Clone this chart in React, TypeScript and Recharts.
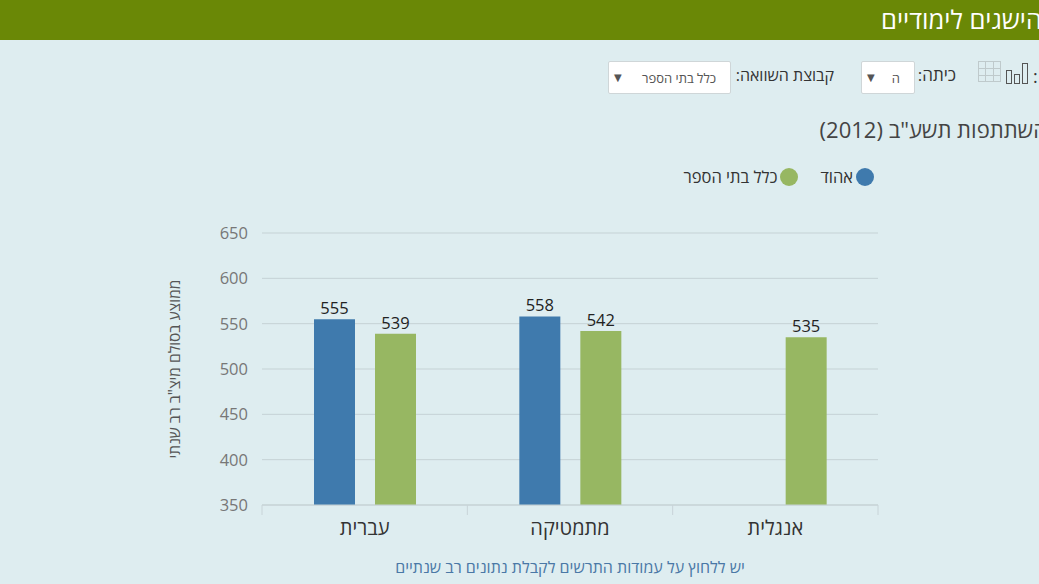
import React from "react";
import {
  BarChart,
  Bar,
  XAxis,
  YAxis,
  CartesianGrid,
  LabelList,
  Label,
} from "recharts";

const subjects = ["עברית", "מתמטיקה", "אנגלית"];
const schoolScores: (number | null)[] = [555, 558, null];
const allSchoolsScores = [539, 542, 535];
const yTicks = [350, 400, 450, 500, 550, 600, 650];

const seriesNames = { school: "אהוד", all: "כלל בתי הספר" };
const BLUE = "#3f7aad";
const GREEN = "#97b762";
const FONT = "'Open Sans', 'Noto Sans', 'DejaVu Sans', sans-serif";

const data = subjects.map((name, i) => ({
  name,
  school: schoolScores[i],
  all: allSchoolsScores[i],
}));

function CategoryTick(props: any) {
  const { x, y, payload } = props;
  const half = payload.offset ?? 0;
  const isLast = payload.index === subjects.length - 1;
  return (
    <g>
      <line x1={x - half} y1={y - 8} x2={x - half} y2={y + 2} stroke="#c8d4d8" />
      {isLast && (
        <line x1={x + half} y1={y - 8} x2={x + half} y2={y + 2} stroke="#c8d4d8" />
      )}
      <text
        x={x}
        y={y + 17}
        textAnchor="middle"
        dominantBaseline="middle"
        fill="#333"
        fontSize={20}
        fontFamily={FONT}
        direction="rtl"
      >
        {payload.value}
      </text>
    </g>
  );
}

function YTitle(props: any) {
  const { viewBox } = props;
  const cx = viewBox.x + 16;
  const cy = viewBox.y + viewBox.height / 2;
  return (
    <text
      x={cx}
      y={cy}
      transform={`rotate(-90 ${cx} ${cy})`}
      textAnchor="middle"
      dominantBaseline="middle"
      fill="#555"
      fontSize={15.5}
      fontFamily={FONT}
      direction="rtl"
    >
      ממוצע בסולם מיצ"ב רב שנתי
    </text>
  );
}

function Select({ left, width, text }: { left: number; width: number; text: string }) {
  return (
    <div
      style={{
        position: "absolute",
        left,
        top: 61,
        width,
        height: 33,
        background: "#fff",
        border: "1px solid #cfd6d8",
        borderRadius: 2,
        boxSizing: "border-box",
        fontSize: 13,
        color: "#555",
      }}
    >
      <span style={{ position: "absolute", left: 5, top: 8, fontSize: 10 }}>▼</span>
      <span style={{ position: "absolute", right: 14, top: 7, direction: "rtl" }}>{text}</span>
    </div>
  );
}

export default function App() {
  return (
    <div
      style={{
        position: "absolute",
        left: 0,
        top: 0,
        width: 1039,
        height: 584,
        overflow: "hidden",
        background: "#deedf0",
        fontFamily: FONT,
      }}
    >
      <div
        style={{
          position: "absolute",
          left: 0,
          top: 0,
          width: 1039,
          height: 40,
          background: "#6a8806",
        }}
      >
        <div
          style={{
            position: "absolute",
            right: -3,
            top: 2,
            color: "#fff",
            fontSize: 25.5,
            direction: "rtl",
            whiteSpace: "nowrap",
          }}
        >
          הישגים לימודיים
        </div>
      </div>

      <div style={{ position: "absolute", left: 1033, top: 64, fontSize: 18, color: "#333" }}>:</div>
      <svg style={{ position: "absolute", left: 976, top: 60 }} width={56} height={26}>
        <g stroke="#bfcacc" fill="none">
          <rect x={2.5} y={1.5} width={22} height={20} />
          <line x1={2.5} y1={8.5} x2={24.5} y2={8.5} />
          <line x1={2.5} y1={15.5} x2={24.5} y2={15.5} />
          <line x1={9.5} y1={1.5} x2={9.5} y2={21.5} />
          <line x1={17.5} y1={1.5} x2={17.5} y2={21.5} />
        </g>
        <g stroke="#555" fill="none">
          <rect x={30.5} y={10.5} width={5} height={13} />
          <rect x={38.5} y={14.5} width={5} height={9} />
          <rect x={46.5} y={3.5} width={5} height={20} />
        </g>
      </svg>
      <div style={{ position: "absolute", right: 83, top: 63, fontSize: 17, color: "#333", direction: "rtl" }}>
        כיתה:
      </div>
      <Select left={861} width={54} text="ה" />
      <div style={{ position: "absolute", right: 205, top: 64, fontSize: 16, color: "#333", direction: "rtl" }}>
        קבוצת השוואה:
      </div>
      <Select left={608} width={123} text="כלל בתי הספר" />

      <div
        style={{
          position: "absolute",
          right: -8,
          top: 114,
          fontSize: 22,
          color: "#444",
          direction: "rtl",
          whiteSpace: "nowrap",
        }}
      >
        השתתפות תשע"ב (2012)
      </div>

      <div
        style={{
          position: "absolute",
          right: 165,
          top: 165,
          display: "flex",
          direction: "rtl",
          alignItems: "center",
          fontSize: 16.5,
          color: "#333",
          gap: 8,
        }}
      >
        <span style={{ display: "flex", alignItems: "center", gap: 3 }}>
          <span style={{ width: 18, height: 18, borderRadius: 9, background: BLUE }} />
          {seriesNames.school}
        </span>
        <span style={{ display: "flex", alignItems: "center", gap: 3, marginRight: 14 }}>
          <span style={{ width: 18, height: 18, borderRadius: 9, background: GREEN }} />
          {seriesNames.all}
        </span>
      </div>

      <div style={{ position: "absolute", left: 160, top: 210 }}>
        <BarChart
          width={740}
          height={340}
          data={data}
          margin={{ top: 23, right: 22, left: 0, bottom: 0 }}
          barSize={41}
          barGap={20}
        >
          <CartesianGrid vertical={false} stroke="#c5d2d5" />
          <XAxis
            dataKey="name"
            height={45}
            axisLine={{ stroke: "#c5d2d5" }}
            tickLine={false}
            tick={<CategoryTick />}
            interval={0}
          />
          <YAxis
            width={102}
            domain={[350, 650]}
            ticks={yTicks}
            allowDataOverflow
            axisLine={false}
            tickLine={false}
            tickMargin={8}
            tick={{ fill: "#777", fontSize: 16.5, fontFamily: FONT }}
          >
            <Label content={<YTitle />} />
          </YAxis>
          <Bar dataKey="school" name={seriesNames.school} fill={BLUE} isAnimationActive={false}>
            <LabelList
              dataKey="school"
              position="top"
              fill="#222"
              fontSize={16.5}
              fontFamily={FONT}
            />
          </Bar>
          <Bar dataKey="all" name={seriesNames.all} fill={GREEN} isAnimationActive={false}>
            <LabelList
              dataKey="all"
              position="top"
              fill="#222"
              fontSize={16.5}
              fontFamily={FONT}
            />
          </Bar>
        </BarChart>
      </div>

      <div
        style={{
          position: "absolute",
          left: 0,
          width: 1140,
          top: 556,
          textAlign: "center",
          fontSize: 16,
          color: "#4a78a6",
          direction: "rtl",
        }}
      >
        יש ללחוץ על עמודות התרשים לקבלת נתונים רב שנתיים
      </div>
    </div>
  );
}
